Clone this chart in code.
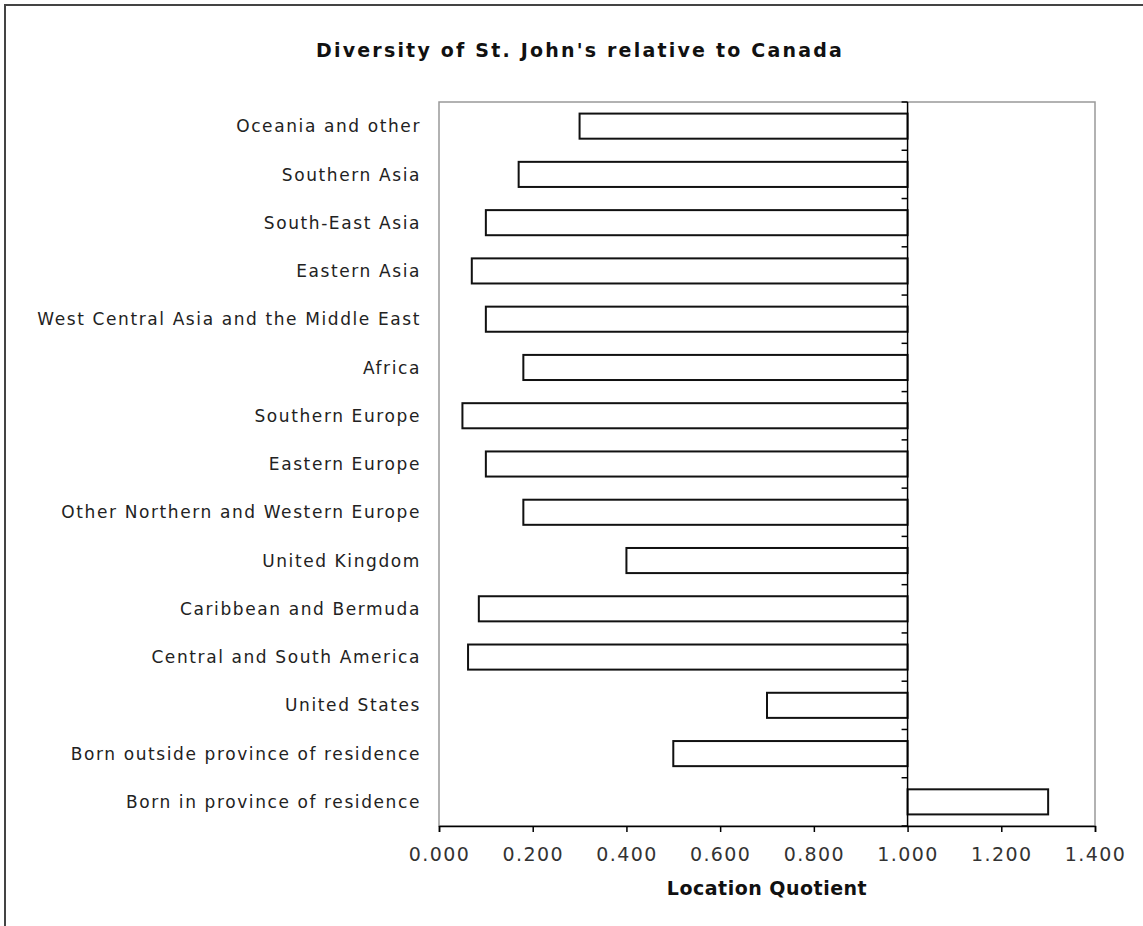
<!DOCTYPE html>
<html>
<head>
<meta charset="utf-8">
<script src="https://cdn.jsdelivr.net/npm/d3@7"></script>
<style>
  body { margin: 0; background: #fff; }
  svg { display: block; font-family: "DejaVu Sans", Verdana, sans-serif; }
</style>
</head>
<body>
<div id="chart"></div>
<script>
"use strict";

// Categories, top to bottom as shown
const categories = [
  "Oceania and other",
  "Southern Asia",
  "South-East Asia",
  "Eastern Asia",
  "West Central Asia and the Middle East",
  "Africa",
  "Southern Europe",
  "Eastern Europe",
  "Other Northern and Western Europe",
  "United Kingdom",
  "Caribbean and Bermuda",
  "Central and South America",
  "United States",
  "Born outside province of residence",
  "Born in province of residence",
];

// Location quotient values
const quotients = [
  0.30, 0.17, 0.10, 0.07, 0.10, 0.18, 0.05, 0.10, 0.18, 0.40, 0.085, 0.062, 0.70, 0.50, 1.30,
];

const xTicks = [0, 0.2, 0.4, 0.6, 0.8, 1.0, 1.2, 1.4];
const baseline = 1.0;

const width = 1143,
  height = 926;

const margin = {
  top: 102,
  right: 48,
  bottom: 100,
  left: 439,
};

const data = categories.map((c, i) => ({ name: c, value: quotients[i] }));

const svg = d3
  .select("#chart")
  .append("svg")
  .attr("width", width)
  .attr("height", height);

// outer frame (right and bottom fall off the picture)
svg
  .append("rect")
  .attr("x", 5)
  .attr("y", 5)
  .attr("width", width + 20)
  .attr("height", height + 20)
  .attr("fill", "none")
  .attr("stroke", "#444")
  .attr("stroke-width", 2);

const x = d3
  .scaleLinear()
  .domain([0, 1.4])
  .range([margin.left, width - margin.right]);

const y = d3
  .scaleBand()
  .domain(categories)
  .range([margin.top, height - margin.bottom])
  .paddingInner(0.48)
  .paddingOuter(0.24);

// plot box
svg
  .append("rect")
  .attr("x", margin.left)
  .attr("y", margin.top)
  .attr("width", width - margin.right - margin.left)
  .attr("height", height - margin.bottom - margin.top)
  .attr("fill", "none")
  .attr("stroke", "#999")
  .attr("stroke-width", 1.5);

// title
svg
  .append("text")
  .attr("x", 580)
  .attr("y", 57)
  .attr("text-anchor", "middle")
  .attr("font-weight", "bold")
  .attr("font-size", 19)
  .attr("letter-spacing", 2.2)
  .attr("fill", "#111")
  .text("Diversity of St. John's relative to Canada");

// bars from the baseline of 1.000
svg
  .append("g")
  .selectAll("rect")
  .data(data)
  .join("rect")
  .attr("x", (d) => x(Math.min(d.value, baseline)))
  .attr("y", (d) => y(d.name))
  .attr("width", (d) => Math.abs(x(d.value) - x(baseline)))
  .attr("height", y.bandwidth())
  .attr("fill", "#fff")
  .attr("stroke", "#111")
  .attr("stroke-width", 2);

// category labels
svg
  .append("g")
  .selectAll("text")
  .data(categories)
  .join("text")
  .attr("x", 421)
  .attr("y", (d) => y(d) + y.bandwidth() / 2)
  .attr("dy", "0.36em")
  .attr("text-anchor", "end")
  .attr("font-size", 17)
  .attr("letter-spacing", 1.6)
  .attr("fill", "#222")
  .text((d) => d);

// vertical axis crossing at 1.000, ticks at band boundaries
const boundaries = d3.range(categories.length + 1).map(
  (i) => margin.top + i * ((height - margin.bottom - margin.top) / categories.length)
);

const yAxis = svg.append("g");
yAxis
  .append("line")
  .attr("x1", x(baseline))
  .attr("x2", x(baseline))
  .attr("y1", margin.top)
  .attr("y2", height - margin.bottom)
  .attr("stroke", "#000")
  .attr("stroke-width", 1.5);
yAxis
  .selectAll("line.tick")
  .data(boundaries)
  .join("line")
  .attr("class", "tick")
  .attr("x1", x(baseline) - 6)
  .attr("x2", x(baseline))
  .attr("y1", (d) => d)
  .attr("y2", (d) => d)
  .attr("stroke", "#000")
  .attr("stroke-width", 1.5);

// x axis
const xAxis = svg
  .append("g")
  .attr("transform", `translate(0,${height - margin.bottom})`)
  .call(
    d3
      .axisBottom(x)
      .tickValues(xTicks)
      .tickFormat(d3.format(".3f"))
      .tickSize(6)
  );
xAxis.select(".domain").attr("stroke-width", 1.5);
xAxis.selectAll(".tick line").attr("stroke-width", 1.5);
xAxis
  .selectAll(".tick text")
  .attr("y", 35)
  .attr("dy", null)
  .attr("font-family", "DejaVu Sans, Verdana, sans-serif")
  .attr("font-size", 19)
  .attr("letter-spacing", 1.4)
  .attr("fill", "#333");

svg
  .append("text")
  .attr("x", (margin.left + width - margin.right) / 2)
  .attr("y", 895)
  .attr("text-anchor", "middle")
  .attr("font-weight", "bold")
  .attr("font-size", 19)
  .attr("letter-spacing", 0.5)
  .attr("fill", "#111")
  .text("Location Quotient");
</script>
</body>
</html>
